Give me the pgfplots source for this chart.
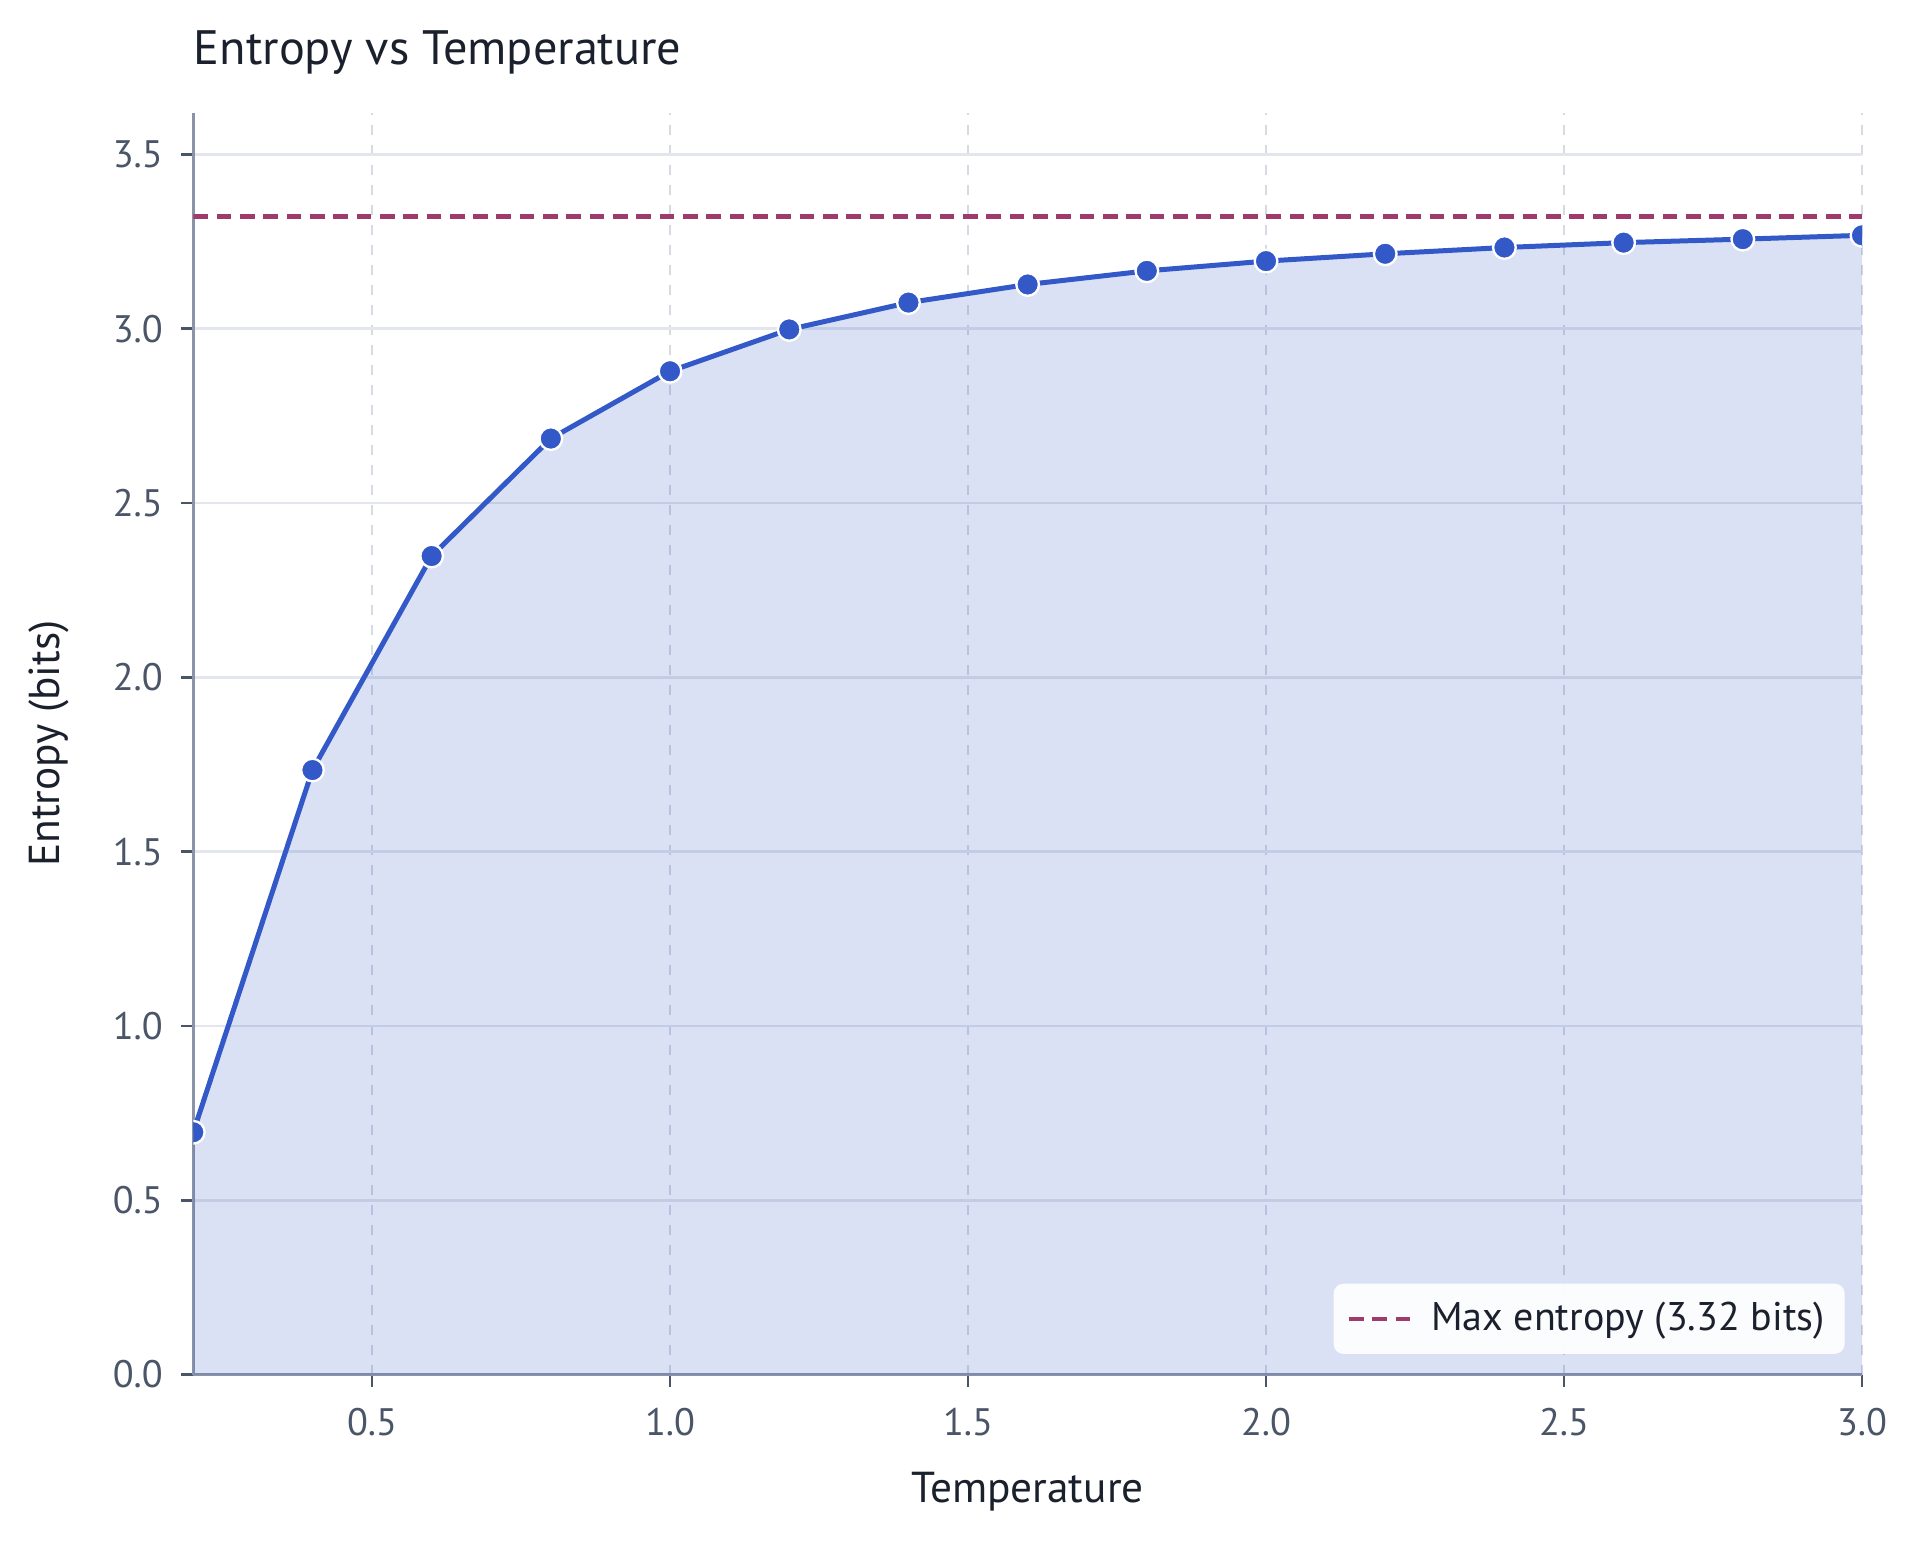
\documentclass[border=0pt]{standalone}
\usepackage{fontspec}
\setmainfont{PT Sans}
\usepackage{pgfplots}
\pgfplotsset{compat=1.18}

\definecolor{lineblue}{HTML}{3358C8}
\definecolor{maxred}{HTML}{9E3A6C}
\definecolor{axisgray}{HTML}{8A94A6}
\definecolor{ticktext}{HTML}{4A5568}
\definecolor{darktext}{HTML}{1A202C}
\definecolor{gridh}{HTML}{E3E6EC}
\definecolor{gridv}{HTML}{D5DAE3}

\begin{document}
\begin{tikzpicture}
  % page size: 1920x1543 px at 0.3pt per px
  \useasboundingbox (-58.0pt,-50.4pt) rectangle (518.2pt,412.5pt);
  \begin{axis}[
    scale only axis,
    width=500.8pt,
    height=378.7pt,
    xmin=0.2, xmax=3.0,
    ymin=0, ymax=3.62,
    xtick={0.5,1.0,1.5,2.0,2.5,3.0},
    ytick={0,0.5,1.0,1.5,2.0,2.5,3.0,3.5},
    axis lines=left,
    axis line style={-, draw=axisgray, line width=1pt},
    tick align=outside,
    major tick length=3.6pt,
    tick style={draw=ticktext, line width=0.8pt},
    xmajorgrids, ymajorgrids,
    x grid style={draw=gridv, dashed, line width=0.6pt},
    y grid style={draw=gridh, line width=0.8pt},
    /pgf/number format/assume math mode=true,
    /pgf/number format/.cd, fixed, fixed zerofill, precision=1, /pgfplots/.cd,
    ticklabel style={font=\fontsize{11.5}{13}\selectfont, text=ticktext},
    xticklabel style={anchor=north, yshift=-3pt},
    yticklabel style={anchor=east, xshift=-2pt},
    title={Entropy vs Temperature},
    title style={at={([yshift=8.5pt]axis description cs:0,1)}, anchor=base west,
      inner sep=0pt, font=\fontsize{14.5}{16}\selectfont, text=darktext},
    xlabel={Temperature},
    xlabel style={at={([yshift=-35.3pt]axis description cs:0.5,0)}, anchor=center,
      font=\fontsize{13}{15}\selectfont, text=darktext},
    ylabel={Entropy (bits)},
    ylabel style={at={([xshift=-43.4pt]axis description cs:0,0.5)}, anchor=center,
      font=\fontsize{13}{15}\selectfont, text=darktext},
    legend style={at={([xshift=-5pt,yshift=6pt]axis description cs:1,0)}, anchor=south east,
      draw=none, fill=white, fill opacity=0.92, text opacity=1,
      rounded corners=3pt, inner xsep=4pt, inner ysep=3.5pt,
      font=\fontsize{12}{14}\selectfont, text=darktext},
    legend image code/.code={
      \draw[#1] (0pt,0pt) -- (18.5pt,0pt);
      \path (22pt,0pt);
    },
    legend cell align=left,
    clip=true,
  ]
    % shaded area under the curve
    \addplot[draw=none, fill=lineblue, fill opacity=0.18, forget plot] coordinates {
      (0.2,0.695) (0.4,1.734) (0.6,2.348) (0.8,2.685) (1.0,2.878)
      (1.2,2.998) (1.4,3.075) (1.6,3.127) (1.8,3.166) (2.0,3.194)
      (2.2,3.215) (2.4,3.233) (2.6,3.247) (2.8,3.257) (3.0,3.268)
    } \closedcycle;

    \addplot[draw=maxred, dash pattern=on 4.4pt off 2.6pt, line width=1.25pt]
      coordinates {(0.2,3.3219) (3.0,3.3219)};
    \addlegendentry{Max entropy (3.32 bits)}

    \addplot[draw=lineblue, line width=1.5pt, mark=*, mark size=3.4pt,
      mark options={fill=lineblue, draw=white, line width=0.7pt}, forget plot,
      clip mode=individual]
      coordinates {
      (0.2,0.695) (0.4,1.734) (0.6,2.348) (0.8,2.685) (1.0,2.878)
      (1.2,2.998) (1.4,3.075) (1.6,3.127) (1.8,3.166) (2.0,3.194)
      (2.2,3.215) (2.4,3.233) (2.6,3.247) (2.8,3.257) (3.0,3.268)
    };
  \end{axis}
\end{tikzpicture}
\end{document}
